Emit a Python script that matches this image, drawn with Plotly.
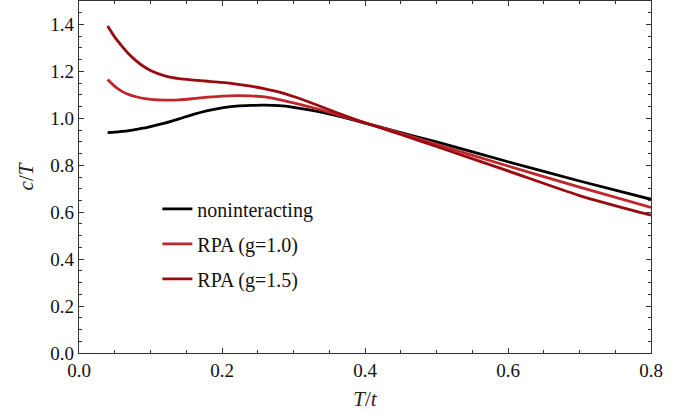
import plotly.graph_objects as go

T = [0.04, 0.05, 0.06, 0.07, 0.08, 0.09, 0.10, 0.12, 0.14, 0.16, 0.18, 0.20, 0.22,
     0.24, 0.26, 0.28, 0.30, 0.33, 0.36, 0.40, 0.45, 0.50, 0.60, 0.70, 0.80]

c_nonint = [0.939, 0.941, 0.944, 0.948, 0.953, 0.958, 0.965, 0.980, 0.998, 1.017,
            1.033, 1.045, 1.052, 1.055, 1.056, 1.054, 1.047, 1.032, 1.012, 0.980,
            0.939, 0.900, 0.815, 0.733, 0.655]
c_rpa10 = [1.165, 1.136, 1.115, 1.101, 1.092, 1.085, 1.081, 1.078, 1.079, 1.084,
           1.090, 1.095, 1.097, 1.096, 1.091, 1.080, 1.066, 1.043, 1.017, 0.981,
           0.936, 0.889, 0.797, 0.707, 0.620]
c_rpa15 = [1.393, 1.346, 1.308, 1.273, 1.245, 1.222, 1.204, 1.181, 1.169, 1.163,
           1.158, 1.153, 1.146, 1.137, 1.126, 1.112, 1.093, 1.060, 1.025, 0.981,
           0.931, 0.880, 0.776, 0.671, 0.587]

names = ["noninteracting", "RPA (g=1.0)", "RPA (g=1.5)"]
colors = ["#000000", "#c0272d", "#9a0b0f"]
series = [c_nonint, c_rpa10, c_rpa15]

FONT = "Liberation Serif, Times New Roman, DejaVu Serif, serif"

fig = go.Figure()
for i, (nm, col, ys) in enumerate(zip(names, colors, series)):
    fig.add_trace(go.Scatter(x=T, y=ys, mode="lines", name=nm,
                             legendgroup=str(i),
                             line=dict(color=col, width=2.8, shape="spline", smoothing=0.7)))

axis_common = dict(showline=True, linecolor="#333", linewidth=1.2, mirror="ticks",
                   ticks="inside", ticklen=5, tickwidth=1, tickcolor="#333",
                   showgrid=False, zeroline=False, automargin=False,
                   tickfont=dict(family=FONT, size=19, color="#111"),
                   minor=dict(ticks="inside", ticklen=2.5, tickwidth=1, tickcolor="#333",
                              dtick=0.05, showgrid=False))

fig.update_xaxes(range=[0, 0.8], dtick=0.2, tick0=0, tickformat=".1f",
                 title=dict(text="<i>T</i>/<i>t</i>", font=dict(family=FONT, size=21, color="#222"),
                            standoff=11),
                 **axis_common)
fig.update_yaxes(range=[0, 1.5], dtick=0.2, tick0=0, tickformat=".1f",
                 title=dict(text="<i>c</i>/<i>T</i>", font=dict(family=FONT, size=21, color="#222"),
                            standoff=10),
                 **axis_common)

fig.update_layout(
    width=696, height=414,
    margin=dict(l=79, r=45, t=1, b=61, autoexpand=False),
    plot_bgcolor="white", paper_bgcolor="white",
    showlegend=True,
    legend=dict(x=0.137, y=0.31, xanchor="left", yanchor="middle",
                bgcolor="rgba(0,0,0,0)", borderwidth=0,
                font=dict(family=FONT, size=20, color="#111"),
                itemwidth=30, tracegroupgap=6),
)

fig.write_html("out.html", config={"displayModeBar": False},
               post_script="document.body.style.margin='0';")
